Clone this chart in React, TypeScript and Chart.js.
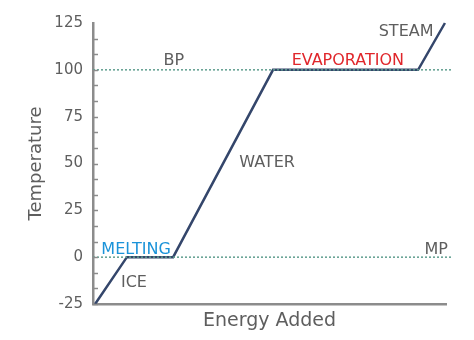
import React, { useEffect, useRef } from "react";
import { Chart, registerables } from "chart.js";
Chart.register(...registerables);

// Heating curve data (energy in arbitrary units 0..100, temperature in °C)
const energy = [0.6, 9.6, 22.7, 51.0, 92.1, 99.7];
const temperature = [-25, 0, 0, 100, 100, 125];
const boilingPoint = 100;
const meltingPoint = 0;
const refLineEnergy = [0, 101.7];
const yTickLabels = [-25, 0, 25, 50, 75, 100, 125];

// Annotations
const labelTexts = ["BP", "EVAPORATION", "STEAM", "WATER", "MELTING", "ICE", "MP"];
const labelEnergy = [22.9, 72.2, 88.7, 49.3, 12.2, 11.6, 97.2];
const labelTemp = [104.7, 104.7, 120.2, 50.3, 3.8, -13.8, 3.8];
const labelColors = ["#5e5e5e", "#e0262b", "#5e5e5e", "#5e5e5e", "#1b93d9", "#5e5e5e", "#5e5e5e"];

const FONT = "'DejaVu Sans', Verdana, sans-serif";
const AXIS_COLOR = "#8c8c8c";
const TEXT_COLOR = "#5e5e5e";

const overlayPlugin = {
  id: "overlay",
  afterDraw(chart: any) {
    const { ctx, scales } = chart;
    const xs = scales.x;
    const ys = scales.y;
    ctx.save();
    // minor tick marks, inside the axis
    ctx.strokeStyle = AXIS_COLOR;
    ctx.lineWidth = 1.5;
    const left = chart.chartArea.left;
    for (let i = 0; i < yTickLabels.length - 1; i++) {
      const a = yTickLabels[i];
      const b = yTickLabels[i + 1];
      for (let k = 0; k < 3; k++) {
        const v = a + ((b - a) * k) / 3;
        const y = Math.round(ys.getPixelForValue(v)) + 0.5;
        ctx.beginPath();
        ctx.moveTo(left, y);
        ctx.lineTo(left + 5, y);
        ctx.stroke();
      }
    }
    // labels
    ctx.font = `16px ${FONT}`;
    ctx.textAlign = "center";
    ctx.textBaseline = "middle";
    labelTexts.forEach((t, i) => {
      ctx.fillStyle = labelColors[i];
      ctx.fillText(t, xs.getPixelForValue(labelEnergy[i]), ys.getPixelForValue(labelTemp[i]));
    });
    ctx.restore();
  },
};

export default function App() {
  const ref = useRef<HTMLCanvasElement | null>(null);
  useEffect(() => {
    if (!ref.current) return;
    const curve = energy.map((e, i) => ({ x: e, y: temperature[i] }));
    const bp = refLineEnergy.map((e) => ({ x: e, y: boilingPoint }));
    const mp = refLineEnergy.map((e) => ({ x: e, y: meltingPoint }));
    const chart = new Chart(ref.current, {
      type: "line",
      data: {
        datasets: [
          {
            data: bp,
            borderColor: "#5f9e8f",
            borderWidth: 1.5,
            borderDash: [2, 2],
            pointRadius: 0,
            clip: false,
          },
          {
            data: mp,
            borderColor: "#5f9e8f",
            borderWidth: 1.5,
            borderDash: [2, 2],
            pointRadius: 0,
            clip: false,
          },
          {
            data: curve,
            borderColor: "#34466b",
            borderWidth: 2.5,
            pointRadius: 0,
            tension: 0,
            clip: false,
          },
        ],
      },
      options: {
        animation: false,
        responsive: false,
        devicePixelRatio: 1,
        layout: { padding: { top: 23, right: 28, left: 0, bottom: 0 } },
        plugins: { legend: { display: false }, tooltip: { enabled: false } },
        scales: {
          x: {
            type: "linear",
            min: 0,
            max: 100,
            ticks: { display: false },
            grid: { display: false, drawTicks: false },
            border: { color: AXIS_COLOR, width: 2.5 },
            title: {
              display: true,
              text: "Energy Added",
              color: TEXT_COLOR,
              font: { family: FONT, size: 19 },
              padding: { top: 0, bottom: 8 },
            },
            afterFit(scale: any) {
              scale.height = 36;
            },
          },
          y: {
            type: "linear",
            min: -25,
            max: 125,
            ticks: {
              stepSize: 25,
              color: TEXT_COLOR,
              padding: 10,
              font: { family: FONT, size: 15 },
            },
            grid: { display: false, drawTicks: false },
            border: { color: AXIS_COLOR, width: 2.5 },
            title: {
              display: true,
              text: "Temperature",
              color: TEXT_COLOR,
              font: { family: FONT, size: 18 },
              padding: { top: 26, bottom: 0 },
            },
            afterFit(scale: any) {
              scale.width = 93;
            },
          },
        },
      },
      plugins: [overlayPlugin],
    });
    return () => chart.destroy();
  }, []);
  return (
    <div style={{ position: "absolute", left: 0, top: 0, width: 474, height: 340, background: "#fff" }}>
      <canvas ref={ref} width={474} height={340} />
    </div>
  );
}
